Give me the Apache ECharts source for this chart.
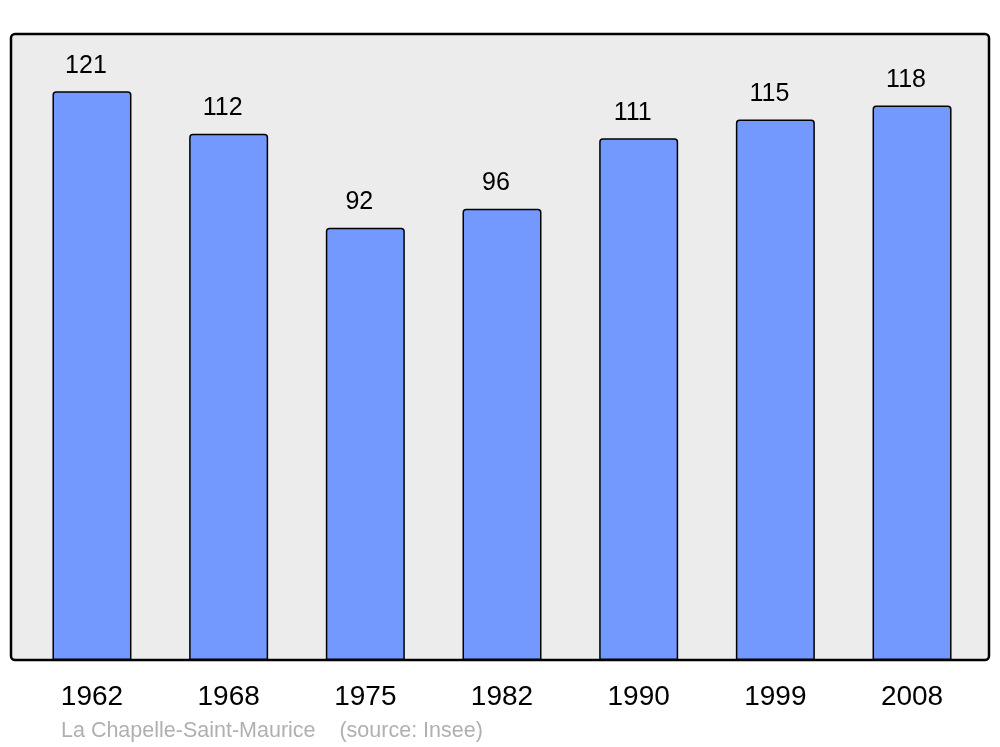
<!DOCTYPE html>
<html>
<head>
<meta charset="utf-8">
<script src="https://cdn.jsdelivr.net/npm/echarts@6/dist/echarts.min.js"></script>
<style>html,body{margin:0;padding:0;background:#fff;}#c{width:1000px;height:747px;}</style>
</head>
<body>
<div id="c"></div>
<script>
var years = ['1962', '1968', '1975', '1982', '1990', '1999', '2008'];
var population = [121, 112, 92, 96, 111, 115, 118];
var sourceText = 'La Chapelle-Saint-Maurice    (source: Insee)';

var chart = echarts.init(document.getElementById('c'), null, {renderer: 'canvas'});
chart.setOption({
  animation: false,
  textStyle: {fontFamily: 'Liberation Sans, Arial, sans-serif'},
  graphic: [
    {type: 'rect', z: -10, shape: {x: 11, y: 34, width: 978, height: 626, r: 4},
     style: {fill: '#ececec', stroke: '#000', lineWidth: 2.5}},
    {type: 'text', left: 61, top: 720,
     style: {text: sourceText, fill: '#b0b0b0', font: '21.5px "Liberation Sans", Arial, sans-serif'}}
  ],
  grid: {left: 23.625, right: 1000 - 23.625 - 956.75, top: 34, bottom: 87, containLabel: false},
  xAxis: {
    type: 'category', data: years,
    axisLine: {show: false}, axisTick: {show: false},
    axisLabel: {color: '#000', fontSize: 28, margin: 23, fontFamily: 'Liberation Sans'}
  },
  yAxis: {
    type: 'value', min: 0, max: 133.2,
    show: false, splitLine: {show: false}
  },
  series: [{
    type: 'bar', data: population, barWidth: 79,
    itemStyle: {color: '#7399ff', borderColor: '#000', borderWidth: 1.5, borderRadius: [3, 3, 0, 0]},
    label: {show: true, position: 'top', distance: 13, offset: [-6, 0], color: '#000', fontSize: 25, fontFamily: 'Liberation Sans'}
  }]
});
</script>
</body>
</html>
